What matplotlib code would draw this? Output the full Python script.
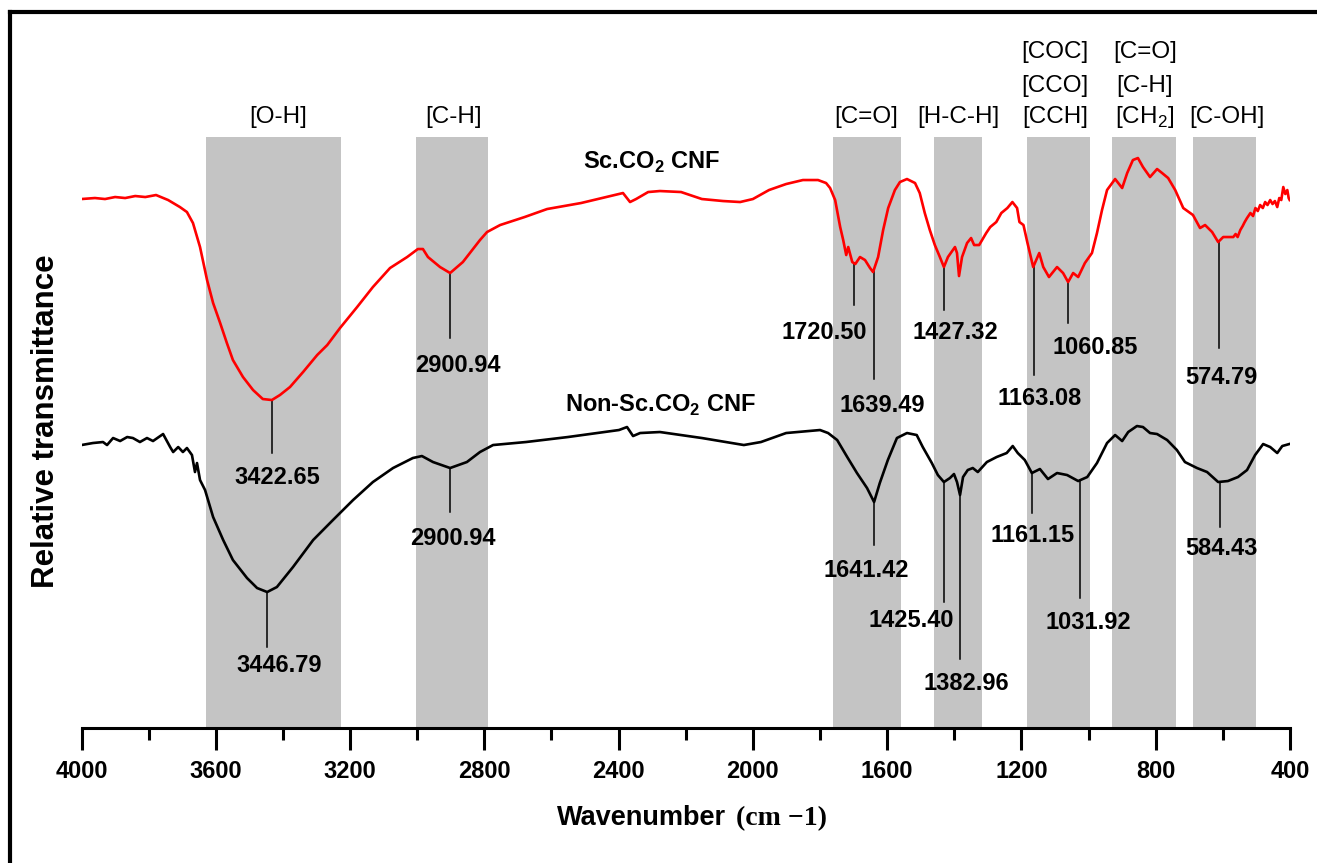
import numpy as np
import matplotlib.pyplot as plt
from matplotlib.lines import Line2D

plt.rcParams['font.family'] = ['Liberation Sans', 'DejaVu Sans']
plt.rcParams['mathtext.fontset'] = 'custom'
plt.rcParams['mathtext.rm'] = 'Liberation Sans'
plt.rcParams['mathtext.bf'] = 'Liberation Sans:bold'

# FTIR spectra: wavenumber (cm-1) and relative transmittance (a.u.)
sc_wn = [4000, 3960, 3930, 3900, 3870, 3840, 3810, 3778, 3742, 3707, 3686, 3668, 3647, 3626,
         3608, 3587, 3567, 3549, 3519, 3489, 3460, 3433, 3409, 3379, 3340, 3298, 3268, 3230,
         3179, 3132, 3081, 3030, 2998, 2983, 2968, 2932, 2902, 2864, 2843, 2813, 2792, 2753,
         2680, 2613, 2512, 2399, 2387, 2366,
         2348, 2312, 2277, 2214, 2152, 2089, 2038, 2000, 1952, 1901, 1851, 1806, 1782, 1770,
         1755, 1740, 1731, 1722, 1716, 1704, 1695, 1681, 1666, 1651, 1642, 1627, 1612, 1597,
         1577, 1562, 1541, 1517, 1503, 1488, 1473, 1458, 1443, 1431, 1419, 1398, 1392, 1386,
         1377, 1362, 1350, 1341, 1326, 1305, 1293, 1275, 1260, 1242, 1227, 1213, 1206, 1194,
         1182, 1165, 1147, 1135, 1118, 1094, 1076, 1061, 1046, 1031, 1011, 990, 975, 960, 945,
         921, 900, 885, 868, 853, 838, 817, 796, 781, 763, 742, 718, 689, 668, 653, 632, 614,
         599, 569, 562, 556, 548, 541, 535, 528, 518, 510, 503, 496, 489, 481, 474, 467, 459,
         452, 445, 438, 432, 426, 420, 414, 408, 404, 401]
sc_t = [529, 530, 529, 531, 530, 532, 531, 533, 528, 521, 516, 505, 481, 448,
        425, 405, 385, 368, 351, 338, 329, 328, 333, 341, 356, 373, 383, 400,
        421, 441, 460, 471, 479, 479, 471, 461, 455, 466, 475, 488, 496, 503,
        511, 519, 525, 534, 535, 526,
        529, 536, 537, 536, 529, 527, 526, 529, 538, 544, 548, 548, 545, 540,
        528, 501, 488, 473, 481, 466, 464, 471, 468, 460, 456, 471, 498, 520,
        538, 546, 549, 545, 535, 515, 498, 483, 471, 461, 471, 481, 475, 452,
        471, 485, 490, 483, 483, 495, 501, 506, 515, 520, 526, 520, 506, 503,
        485, 461, 475, 461, 451, 461, 455, 446, 455, 451, 465, 475, 495, 518, 538,
        549, 540, 555, 568, 570, 561, 551, 559, 555, 550, 538, 520, 513, 500, 503, 496, 486,
        491, 491, 494, 491, 498, 502, 506, 510, 515, 512, 520, 517, 523, 520, 526, 523, 528,
        524, 527, 521, 530, 528, 541, 534, 538, 530, 528]

non_wn = [4000, 3966, 3936, 3924, 3906, 3885, 3864, 3847, 3826, 3805, 3787, 3757, 3736, 3727,
          3712, 3698, 3686, 3671, 3662, 3656, 3647, 3632, 3608, 3578, 3549, 3507, 3477, 3447,
          3418, 3370, 3310, 3251, 3191, 3132, 3072, 3013, 2986, 2953, 2902, 2852, 2813, 2774,
          2676, 2551, 2399, 2375, 2357,
          2336, 2277, 2152, 2027, 1976, 1901, 1800, 1776, 1749, 1719, 1690, 1660, 1639, 1622,
          1598, 1571, 1541, 1512, 1494, 1467, 1449, 1431, 1413, 1401, 1392, 1383, 1374, 1360,
          1345, 1330, 1303, 1274, 1244, 1226, 1211, 1190, 1169, 1145, 1121, 1094, 1064, 1031,
          1004, 975, 945, 921, 900, 882, 856, 838, 817, 796, 766, 737, 713, 677, 647, 614, 585,
          555, 528, 504, 480, 459, 438, 423, 402]
non_t = [283, 285, 286, 283, 290, 287, 291, 290, 286, 290, 287, 294, 281, 276,
         281, 276, 280, 273, 256, 265, 248, 238, 211, 188, 168, 150, 140, 136,
         141, 161, 188, 208, 228, 246, 260, 270, 272, 266, 260, 266, 276, 283,
         286, 291, 298, 301, 292,
         295, 296, 290, 283, 286, 295, 298, 295, 288, 271, 255, 240, 226, 245,
         268, 290, 295, 293, 281, 265, 253, 246, 250, 254, 246, 233, 251, 258,
         260, 256, 266, 271, 275, 282, 275, 268, 255, 259, 249, 255, 253, 247,
         251, 265, 285, 293, 287, 296, 302, 301, 295, 294, 288, 278, 266, 260, 256, 246, 247,
         251, 258, 273, 284, 281, 275, 282, 284]

# shaded assignment bands (cm-1)
band_lo = [3630, 3003, 1762, 1461, 1184, 929, 689]
band_hi = [3226, 2790, 1558, 1317, 995, 741, 500]
band_top = 591
band_text = [["[O-H]"], ["[C-H]"], ["[C=O]"], ["[H-C-H]"],
             ["[CCH]", "[CCO]", "[COC]"], ["[CH$_2$]", "[C-H]", "[C=O]"], ["[C-OH]"]]
band_text_x = [3414, 2893, 1663, 1389, 1100, 832, 588]
band_text_y = [605, 636, 670]

# peak annotations: label, marker position, line end, label position
sc_peaks = ["3422.65", "2900.94", "1720.50", "1639.49", "1427.32", "1163.08", "1060.85", "574.79"]
sc_peak_x = [3432, 2901, 1699, 1639, 1432, 1163, 1061, 611]
sc_line_end = [275, 390, 423, 349, 418, 353, 405, 380]
sc_label_x = [3418, 2878, 1788, 1616, 1398, 1145, 981, 605]
sc_label_y = [251, 363, 396, 323, 396, 330, 381, 351]

non_peaks = ["3446.79", "2900.94", "1641.42", "1425.40", "1382.96", "1161.15", "1031.92", "584.43"]
non_peak_x = [3448, 2902, 1639, 1431, 1382, 1169, 1026, 608]
non_line_end = [81, 216, 183, 126, 69, 215, 130, 201]
non_label_x = [3412, 2894, 1663, 1529, 1365, 1166, 1002, 605]
non_label_y = [63, 190, 158, 108, 45, 193, 106, 180]

fig = plt.figure(figsize=(13.17, 8.63), dpi=100)
ax = fig.add_axes([0.0619, 0.1564, 0.9176, 0.8285])

for lo, hi in zip(band_lo, band_hi):
    ax.fill_between([lo, hi], 0, band_top, color='#c4c4c4', lw=0, zorder=0)
for txt, x in zip(band_text, band_text_x):
    for row, s in enumerate(txt):
        ax.text(x, band_text_y[row], s, ha='center', va='baseline', fontsize=17.5)

ax.plot(sc_wn, sc_t, color='red', lw=1.9, zorder=3)
ax.plot(non_wn, non_t, color='black', lw=1.9, zorder=3)

def annotate(wn, t, names, xs, ends, lx, ly):
    wn = np.array(wn)[::-1]
    t = np.array(t)[::-1]
    for name, x, e, tx, ty in zip(names, xs, ends, lx, ly):
        top = np.interp(x, wn, t)
        ax.plot([x, x], [top, e], color='black', lw=1.1, zorder=2)
        ax.text(tx, ty, name, ha='center', va='center', fontsize=17, fontweight='bold')

annotate(sc_wn, sc_t, sc_peaks, sc_peak_x, sc_line_end, sc_label_x, sc_label_y)
annotate(non_wn, non_t, non_peaks, non_peak_x, non_line_end, non_label_x, non_label_y)

ax.text(2301, 566, r"Sc.CO$_\mathbf{2}$ CNF", ha='center', va='center', fontsize=17, fontweight='bold')
ax.text(2274, 323, r"Non-Sc.CO$_\mathbf{2}$ CNF", ha='center', va='center', fontsize=17, fontweight='bold')

ax.set_xlim(4000, 400)
ax.set_ylim(0, 715)
ax.set_xticks(np.arange(4000, 399, -400))
ax.set_xticks(np.arange(3800, 400, -400), minor=True)
ax.tick_params(axis='x', which='major', direction='out', length=16, width=2.2, pad=7,
               labelsize=17)
ax.tick_params(axis='x', which='minor', direction='out', length=8.5, width=2.2)
for lab in ax.get_xticklabels():
    lab.set_fontweight('bold')
ax.set_yticks([])
for side in ['left', 'right', 'top']:
    ax.spines[side].set_visible(False)
ax.spines['bottom'].set_linewidth(2.2)
ax.patch.set_alpha(0)

fig.text(0.035, 0.512, "Relative transmittance", rotation=90, ha='center', va='center',
         fontsize=22.5, fontweight='bold')
fig.text(0.5513, 0.052, "Wavenumber", ha='right', va='center', fontsize=19.5, fontweight='bold')
fig.text(0.5585, 0.052, "(cm \u22121)", ha='left', va='center', fontsize=20,
         fontweight='bold', family='Liberation Serif')

# frame around the figure (left and top edges)
fig.add_artist(Line2D([10 / 1317, 10 / 1317], [0, 1 - 12.5 / 863], color='black', lw=3))
fig.add_artist(Line2D([10 / 1317, 1], [1 - 12.5 / 863, 1 - 12.5 / 863], color='black', lw=3))

plt.savefig('out.png', dpi=100)
